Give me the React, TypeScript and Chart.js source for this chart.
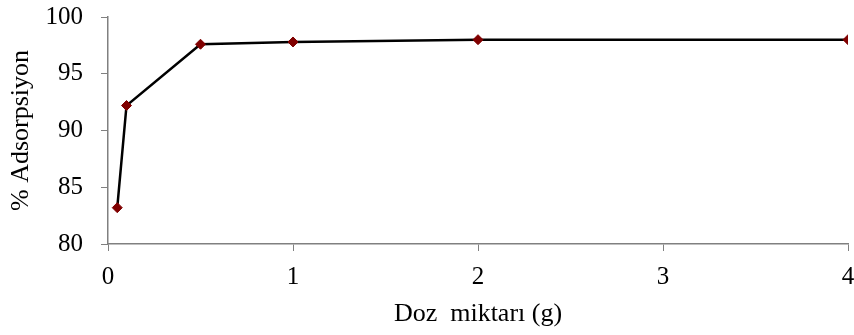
import React, { useEffect, useRef } from "react";
import { Chart, registerables } from "chart.js";

Chart.register(...registerables);

const doses = [0.05, 0.1, 0.5, 1, 2, 4];
const adsorption = [83.2, 92.2, 97.6, 97.8, 98.0, 98.0];
const xTitle = "Doz  miktarı (g)";
const yTitle = "% Adsorpsiyon";

export default function App() {
  const ref = useRef<HTMLCanvasElement | null>(null);
  useEffect(() => {
    if (!ref.current) return;
    const family = "'Liberation Serif', 'Times New Roman', serif";
    const tickFont = { family, size: 25 };
    const titleFont = { family, size: 26 };
    const chart = new Chart(ref.current, {
      type: "scatter",
      data: {
        datasets: [
          {
            data: doses.map((d, i) => ({ x: d, y: adsorption[i] })),
            showLine: true,
            borderColor: "#000000",
            borderWidth: 2.5,
            backgroundColor: "#800000",
            pointBackgroundColor: "#800000",
            pointBorderColor: "#800000",
            pointStyle: "rectRot",
            pointRadius: 5,
            pointBorderWidth: 1,
          },
        ],
      },
      options: {
        animation: false,
        responsive: false,
        maintainAspectRatio: false,
        layout: { padding: { top: 17, right: 6, left: 0, bottom: 0 } },
        plugins: { legend: { display: false }, tooltip: { enabled: false } },
        scales: {
          x: {
            type: "linear",
            min: 0,
            max: 4,
            afterFit: (s: any) => {
              s.height = 91;
              s.paddingLeft = 0;
              s.paddingRight = 0;
            },
            ticks: { stepSize: 1, color: "#000", font: tickFont, padding: 11, maxRotation: 0 },
            grid: {
              drawOnChartArea: false,
              drawTicks: true,
              tickLength: 7,
              color: "#808080",
            },
            border: { color: "#808080", width: 1.5 },
            title: { display: true, text: xTitle, color: "#000", font: titleFont, padding: { top: 0, bottom: 5 } },
          },
          y: {
            type: "linear",
            min: 80,
            max: 100,
            afterFit: (s: any) => {
              s.width = 108;
              s.paddingTop = 0;
              s.paddingBottom = 0;
            },
            ticks: { stepSize: 5, color: "#000", font: tickFont, padding: 18 },
            grid: {
              drawOnChartArea: false,
              drawTicks: true,
              tickLength: 7,
              color: "#808080",
            },
            border: { color: "#808080", width: 1.5 },
            title: { display: true, text: yTitle, color: "#000", font: titleFont, padding: { top: 6, bottom: 0 } },
          },
        },
      },
    });
    return () => chart.destroy();
  }, []);
  return (
    <div style={{ position: "absolute", left: 0, top: 0, width: 854, height: 335, background: "#fff" }}>
      <canvas ref={ref} width={854} height={335} style={{ width: 854, height: 335, display: "block" }} />
    </div>
  );
}
